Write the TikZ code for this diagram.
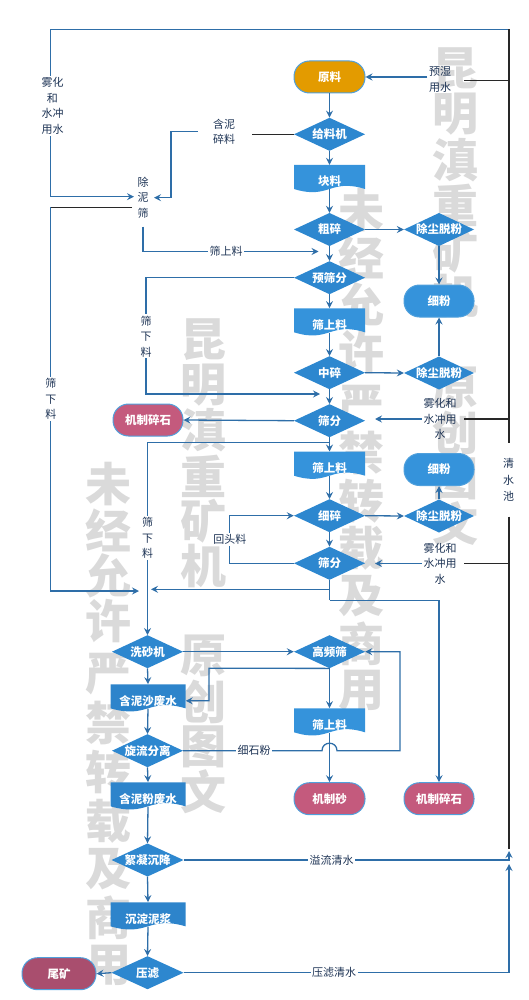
\documentclass[tikz,border=0pt]{standalone}
\usepackage{fontspec}
\setmainfont{Noto Sans CJK SC}
\usetikzlibrary{arrows.meta,calc}

\definecolor{cline}{RGB}{46,110,168}
\definecolor{cblack}{RGB}{40,40,40}
\definecolor{ctext}{RGB}{30,52,85}
\definecolor{cdia}{RGB}{45,135,207}
\definecolor{cdoc}{RGB}{53,147,219}
\definecolor{cdocl}{RGB}{45,132,203}
\definecolor{corange}{RGB}{227,155,0}
\definecolor{crose}{RGB}{196,90,125}
\definecolor{crosed}{RGB}{169,78,110}
\definecolor{cedge}{RGB}{80,160,220}
\definecolor{cwm}{RGB}{218,218,218}

\tikzset{
  conn/.style={draw=cline, line width=1.3pt},
  arr/.style={conn, -{Stealth[length=7pt,width=7pt,inset=2.5pt]}},
  blk/.style={draw=cblack, line width=1.2pt},
  lbl/.style={font=\fontsize{11}{15.5}\selectfont, text=ctext, inner sep=1.5pt, align=center},
  lblw/.style={lbl, fill=white},
  shapetext/.style={text=white, font=\fontsize{11.5}{13}\selectfont\bfseries},
  dia/.style={rectangle, inner sep=0pt, minimum width=71pt, minimum height=33pt, shapetext,
    path picture={\fill[cdia] (path picture bounding box.north) -- (path picture bounding box.east)
      -- (path picture bounding box.south) -- (path picture bounding box.west) -- cycle;}},
  stad/.style={rectangle, rounded corners=15.5pt, minimum width=71pt, minimum height=32pt,
    inner sep=0pt, shapetext, draw=cedge, line width=1pt},
  docbox/.style={rectangle, inner sep=0pt, minimum height=24pt, shapetext},
  wm/.style={font=\fontsize{46}{46}\selectfont\bfseries, text=cwm, inner sep=0pt},
}

% document shape: name, centre x, top y, half width, colour, text
\newcommand\docnode[6]{%
  \fill[#5] (#2-#4,#3) -- (#2+#4,#3) -- (#2+#4,#3+24)
    .. controls (#2,#3+13) and (#2,#3+35) .. (#2-#4,#3+24) -- cycle;
  \node[docbox, minimum width=2*#4] (#1) at (#2,#3+12) {\smash{\raisebox{-9pt}{#6}}};
}

\begin{document}
\begin{tikzpicture}[x=1pt,y=-1pt]
\useasboundingbox (0,0) rectangle (529,1000);

% ---------- watermark (behind) ----------
\foreach \ch/\yy [count=\i] in {昆/69,明/114.5,滇/160,重/205.5,矿/251,机/296.5,原/387.5,创/433,图/478.5,文/524}
  \node[wm] (wmra\i) at (455,\yy) {\ch};
\foreach \ch/\yy [count=\i] in {未/210,经/257.5,允/305,许/352.5,严/406,禁/453.5,转/501,载/548.5,及/596,商/643.5,用/691}
  \node[wm] (wmca\i) at (361,\yy) {\ch};
\foreach \ch/\yy [count=\i] in {昆/340,明/385,滇/430,重/476,矿/521,机/566,原/656,创/702,图/747,文/792}
  \node[wm] (wmrb\i) at (203,\yy) {\ch};
\foreach \ch/\yy [count=\i] in {未/484,经/530,允/576,许/621,严/674,禁/723,转/772,载/821,及/869,商/918,用/966}
  \node[wm] (wmcb\i) at (108,\yy) {\ch};

% ---------- central column ----------
\node[stad, fill=corange] (yl) at (329.5,77) {原料};
\node[dia] (glj) at (329.5,134.3) {给料机};
\docnode{kl}{329.5}{165}{35.5}{cdoc}{块料}
\node[dia] (cs) at (329.5,229.5) {粗碎};
\node[dia] (ysf) at (329.5,277.7) {预筛分};
\docnode{ssla}{329.5}{308.3}{35.5}{cdoc}{筛上料}
\node[dia] (zs) at (329.5,372.7) {中碎};
\node[dia] (sfa) at (329.5,420.7) {筛分};
\docnode{sslb}{329.5}{451.7}{35.5}{cdoc}{筛上料}
\node[dia] (xs) at (329.5,515.7) {细碎};
\node[dia] (sfb) at (329.5,563.3) {筛分};
\node[dia] (gps) at (329.5,651.7) {高频筛};
\docnode{sslc}{329.5}{708.3}{35.5}{cdoc}{筛上料}
\node[stad, fill=crose] (jzs) at (329.5,798.7) {机制砂};

% ---------- right column ----------
\node[dia, minimum width=70pt] (cca) at (439,229.5) {除尘脱粉};
\node[stad, fill=cdoc, minimum width=70pt] (xfa) at (439,301) {细粉};
\node[dia, minimum width=70pt] (ccb) at (439,373) {除尘脱粉};
\node[stad, fill=cdoc, minimum width=70pt] (xfb) at (439,469.5) {细粉};
\node[dia, minimum width=70pt] (ccc) at (439,516) {除尘脱粉};
\node[stad, fill=crose, minimum width=70pt] (jzsb) at (439,798.7) {机制碎石};

% ---------- left column ----------
\node[stad, fill=crose, minimum width=70pt] (jzsa) at (148,420) {机制碎石};
\node[dia] (xsj) at (147.5,651.7) {洗砂机};
\docnode{hnss}{148}{684.3}{37.5}{cdocl}{含泥沙废水}
\node[dia] (xlfl) at (147.5,750.7) {旋流分离};
\docnode{hnfs}{148}{782.3}{37.5}{cdocl}{含泥粉废水}
\node[dia, minimum width=72pt] (nncj) at (147.5,860) {絮凝沉降};
\docnode{cdnj}{148}{902.3}{37.5}{cdocl}{沉淀泥浆}
\node[dia, minimum width=72pt] (ylv) at (147.5,972.7) {压滤};
\node[stad, fill=crosed, minimum width=74pt] (wk) at (59,973.7) {尾矿};

% ---------- coordinates ----------
\coordinate (tl) at (50.8,29.3);
\coordinate (tr) at (509,29.3);
\coordinate (rba) at (509,443);
\coordinate (rtb) at (509,516.7);
\coordinate (rbb) at (509,849);
\coordinate (rup) at (509,851);
\coordinate (rbot) at (509,972.7);
\coordinate (cnsin) at (134,196.7);
\coordinate (ysysR) at (464,80.7);
\coordinate (hnslR) at (252,134.3);
\coordinate (hnslL) at (197.6,131.7);
\coordinate (hnslB) at (171,131.7);
\coordinate (cnsR) at (154,197.7);
\coordinate (cnsLb) at (132,207.3);
\coordinate (lfta) at (50.8,207.3);
\coordinate (lftin) at (139,591);
\coordinate (cnsB) at (143,226.7);
\coordinate (ssin) at (318.5,251.5);
\coordinate (ysfL) at (146,277.7);
\coordinate (zsin) at (320,394);
\coordinate (whatip) at (375,419);
\coordinate (whaR) at (464,419);
\coordinate (sfaB) at (329.5,442.3);
\coordinate (sxlL) at (147.5,442.3);
\coordinate (htlB) at (229.8,563.3);
\coordinate (htlT) at (229.8,515.7);
\coordinate (whbtip) at (375,563.5);
\coordinate (whbR) at (464,563.5);
\coordinate (sfbA) at (329.5,589.3);
\coordinate (sfbtip) at (151,589.3);
\coordinate (sfbB) at (329.5,600.2);
\coordinate (sfbC) at (439,600.2);
\coordinate (gpsL) at (209,668.2);
\coordinate (hnssin) at ($(hnss.east)+(0,4.5)$);
\coordinate (hopL) at (322,750.7);
\coordinate (hopR) at (337,750.7);
\coordinate (xsfR) at (400,750.7);
\coordinate (ylR) at (509,860);
\coordinate (ylqsup) at (509,864);

% ---------- connectors ----------
\draw[arr] (tr) -- (tl) |- (cnsin);
\draw[blk] (tr) -- (rba);
\draw[blk] (rtb) -- (rbb);
\draw[blk] (ysysR) -- (ysysR -| tr);
\draw[blk] (hnslR) -- (glj.west);
\draw[arr] (hnslL) -- (hnslB) |- (cnsR);
\draw[blk] (cnsLb) -- (lfta);
\draw[arr] (lfta) |- (lftin);
\draw[arr] (cnsB) |- (ssin);

\draw[arr] (yl.south) -- (glj.north);
\draw[arr] (glj.south) -- (kl.north);
\draw[arr] (kl.south) -- (cs.north);
\draw[arr] (cs.south) -- (ysf.north);
\draw[arr] (cs.east) -- (cca.west);
\draw[arr] (cca.south) -- (xfa.north);
\draw[arr] (ysf.south) -- (ssla.north);
\draw[arr] (ssla.south) -- (zs.north);
\draw[arr] (zs.east) -- (ccb.west);
\draw[arr] (ccb.north) -- (xfa.south);
\draw[arr] (zs.south) -- (sfa.north);
\draw[arr] (ysf.west) -- (ysfL) |- (zsin);
\draw[arr] (sfa.west) -- (jzsa.east);
\draw[blk] (whaR) -- (whaR -| tr);
\draw[arr] (sfa.south) -- (sslb.north);
\draw[arr] (sfaB) -- (sxlL) -- (xsj.north);
\draw[arr] (sslb.south) -- (xs.north);
\draw[arr] (xs.east) -- (ccc.west);
\draw[arr] (ccc.north) -- (xfb.south);
\draw[arr] (xs.south) -- (sfb.north);
\draw[arr] (sfb.west) -- (htlB) -- (htlT) -- (xs.west);
\draw[blk] (whbR) -- (whbR -| tr);
\draw[conn] (sfb.south) -- (sfbB);
\draw[arr] (sfbA) -- (sfbtip);
\draw[arr] (sfbB) -- (sfbC) -- (jzsb.north);

\draw[arr] (xsj.south) -- (hnss.north);
\draw[arr] (xsj.east) -- (gps.west);
\draw[arr] (gps.south) -- (sslc.north);
\draw[arr] (gps.south) -- (gpsL) |- (hnssin);
\draw[arr] (hnss.south) -- (xlfl.north);
\draw[arr] (xlfl.south) -- (hnfs.north);
\draw[arr] (xlfl.east) -- (hopL) .. controls (322,740.7) and (337,740.7) .. (hopR) -- (xsfR) |- (gps.east);
\draw[arr] (sslc.south) -- (jzs.north);
\draw[arr] (hnfs.south) -- (nncj.north);
\draw[arr] (nncj.east) -- (ylR) -- (rup);
\draw[arr] (nncj.south) -- (cdnj.north);
\draw[arr] (cdnj.south) -- (ylv.north);
\draw[arr] (ylv.west) -- (wk.east);
\draw[arr] (ylv.east) -- (rbot) -- (ylqsup);

% ---------- labels ----------
\node[lbl] (ysys) at (440,79.5) {预湿\\用水};
\draw[arr] (ysys.west |- yl.east) -- (yl.east);
\node[lblw] (whl) at (52.5,106) {雾化\\和\\水冲\\用水};
\node[lbl] (cns) at (143,197.5) {除\\泥\\筛};
\node[lbl] (hnsl) at (224,131.7) {含泥\\碎料};
\node[lblw] (sxlz) at (50.8,399) {筛\\下\\料};
\node[lblw] (sslz) at (226,251.5) {筛上料};
\node[lblw] (sxla) at (146,336.3) {筛\\下\\料};
\node[lbl] (wha) at (440,419) {雾化和\\水冲用\\水};
\draw[arr] (wha.west) -- (whatip);
\node[lblw] (sxlb) at (147.5,538) {筛\\下\\料};
\node[lblw] (htl) at (229.8,539.3) {回头料};
\node[lbl] (whb) at (440,563.5) {雾化和\\水冲用\\水};
\draw[arr] (whb.west) -- (whbtip);
\node[lbl, font=\fontsize{11}{16.7}\selectfont] (qsc) at (508.5,480) {清\\水\\池};
\node[lblw] (xsf) at (254,750.7) {细石粉};
\node[lblw] (ylqs) at (331.5,860) {溢流清水};
\node[lblw] (ylqsb) at (334,972.7) {压滤清水};
\end{tikzpicture}
\end{document}
